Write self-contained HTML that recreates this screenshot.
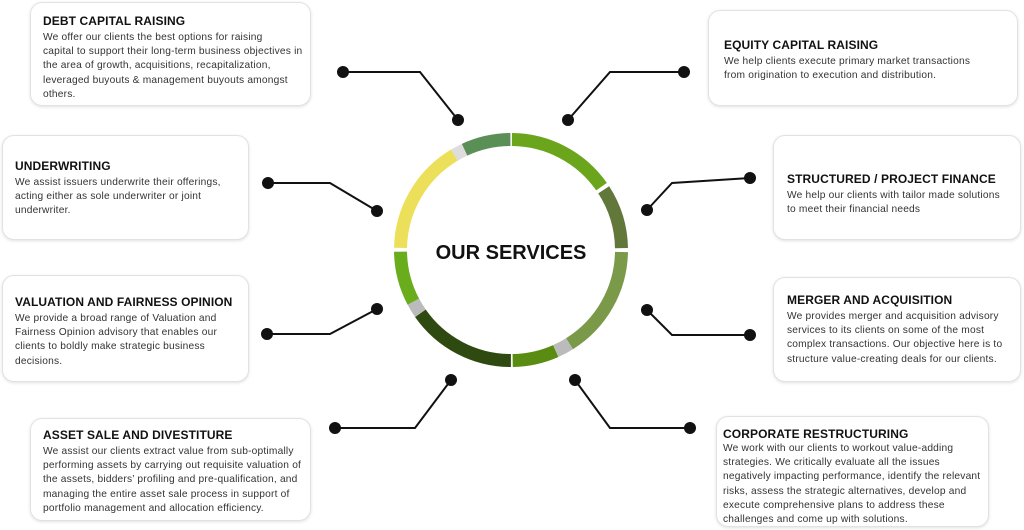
<!DOCTYPE html>
<html><head><meta charset="utf-8"><style>
body{margin:0;width:1024px;height:530px;background:#fff;position:relative;overflow:hidden;font-family:"Liberation Sans",sans-serif;color:#222}
.b{position:absolute;box-sizing:border-box;border:1px solid #e2e2e2;border-radius:12px;background:#fff;box-shadow:0 1px 3px rgba(0,0,0,.12);padding:0 10px}
.b h3{margin:0;font-size:12px;font-weight:bold;color:#111;letter-spacing:.1px;white-space:nowrap}
.b p{margin:3px 0 0;font-size:10.2px;line-height:14.2px;color:#333;letter-spacing:.2px;white-space:nowrap}
svg{position:absolute;left:0;top:0}
</style></head><body>
<svg width="1024" height="530">
<g fill="none" stroke="#111" stroke-width="2">
<polyline points="343,72 420,72 458,120"/>
<polyline points="684,72 610,72 568,120"/>
<polyline points="268,183 330,183 377,211"/>
<polyline points="750,178 672,183 647,210"/>
<polyline points="267,334 330,334 377,309"/>
<polyline points="647,310 672,335 750,335"/>
<polyline points="335,428 415,428 451,380"/>
<polyline points="575,380 610,428 690,428"/>
</g>
<g fill="#111">
<circle cx="343" cy="72" r="6"/><circle cx="458" cy="120" r="6"/>
<circle cx="684" cy="72" r="6"/><circle cx="568" cy="120" r="6"/>
<circle cx="268" cy="183" r="6"/><circle cx="377" cy="211" r="6"/>
<circle cx="750" cy="178" r="6"/><circle cx="647" cy="210" r="6"/>
<circle cx="267" cy="334" r="6"/><circle cx="377" cy="309" r="6"/>
<circle cx="647" cy="310" r="6"/><circle cx="750" cy="335" r="6"/>
<circle cx="335" cy="428" r="6"/><circle cx="451" cy="380" r="6"/>
<circle cx="575" cy="380" r="6"/><circle cx="690" cy="428" r="6"/>
</g>
<g fill="none" stroke-width="13" transform="rotate(-90 511 250)">
<circle cx="511" cy="250" r="110.5" stroke="#6aa51b" stroke-dasharray="105.1 700" stroke-dashoffset="-0.96"/>
<circle cx="511" cy="250" r="110.5" stroke="#62773a" stroke-dasharray="61.7 700" stroke-dashoffset="-109.9"/>
<circle cx="511" cy="250" r="110.5" stroke="#7a9a4a" stroke-dasharray="109.9 700" stroke-dashoffset="-175.5"/>
<circle cx="511" cy="250" r="110.5" stroke="#bbb" stroke-dasharray="15.4 700" stroke-dashoffset="-285.4"/>
<circle cx="511" cy="250" r="110.5" stroke="#5a8c12" stroke-dasharray="44.4 700" stroke-dashoffset="-300.9"/>
<circle cx="511" cy="250" r="110.5" stroke="#2f4a10" stroke-dasharray="106.1 700" stroke-dashoffset="-347.1"/>
<circle cx="511" cy="250" r="110.5" stroke="#bbb" stroke-dasharray="13.5 700" stroke-dashoffset="-453.2"/>
<circle cx="511" cy="250" r="110.5" stroke="#6aad1c" stroke-dasharray="52.1 700" stroke-dashoffset="-466.7"/>
<circle cx="511" cy="250" r="110.5" stroke="#ece05a" stroke-dasharray="111.9 700" stroke-dashoffset="-522.7"/>
<circle cx="511" cy="250" r="110.5" stroke="#ddd" stroke-dasharray="11.6 700" stroke-dashoffset="-634.5"/>
<circle cx="511" cy="250" r="110.5" stroke="#5a9055" stroke-dasharray="47.3 700" stroke-dashoffset="-646.1"/>
</g>
<text x="511" y="259" text-anchor="middle" font-family="Liberation Sans" font-weight="bold" font-size="20" fill="#111">OUR SERVICES</text>
</svg>

<div class="b" style="left:30px;top:2px;width:281px;height:104px;padding-top:11px;padding-left:12px"><h3>DEBT CAPITAL RAISING</h3><p>We offer our clients the best options for raising<br>capital to support their long-term business objectives in<br>the area of growth, acquisitions, recapitalization,<br>leveraged buyouts &amp; management buyouts amongst<br>others.</p></div>

<div class="b" style="left:708px;top:10px;width:310px;height:96px;padding-top:27px;padding-left:15px"><h3>EQUITY CAPITAL RAISING</h3><p>We help clients execute primary market transactions<br>from origination to execution and distribution.</p></div>

<div class="b" style="left:2px;top:135px;width:247px;height:105px;padding-top:23px;padding-left:12px"><h3>UNDERWRITING</h3><p>We assist issuers underwrite their offerings,<br>acting either as sole underwriter or joint<br>underwriter.</p></div>

<div class="b" style="left:773px;top:135px;width:248px;height:105px;padding-top:36px;padding-left:13px"><h3>STRUCTURED / PROJECT FINANCE</h3><p>We help our clients with tailor made solutions<br>to meet their financial needs</p></div>

<div class="b" style="left:2px;top:275px;width:247px;height:107px;padding-top:19px;padding-left:12px"><h3>VALUATION AND FAIRNESS OPINION</h3><p>We provide a broad range of Valuation and<br>Fairness Opinion advisory that enables our<br>clients to boldly make strategic business<br>decisions.</p></div>

<div class="b" style="left:773px;top:277px;width:248px;height:105px;padding-top:15px;padding-left:13px"><h3>MERGER AND ACQUISITION</h3><p>We provides merger and acquisition advisory<br>services to its clients on some of the most<br>complex transactions. Our objective here is to<br>structure value-creating deals for our clients.</p></div>

<div class="b" style="left:30px;top:418px;width:281px;height:103px;padding-top:9px;padding-left:12px"><h3>ASSET SALE AND DIVESTITURE</h3><p>We assist our clients extract value from sub-optimally<br>performing assets by carrying out requisite valuation of<br>the assets, bidders’ profiling and pre-qualification, and<br>managing the entire asset sale process in support of<br>portfolio management and allocation efficiency.</p></div>

<div class="b" style="left:716px;top:416px;width:273px;height:111px;padding-top:10px;padding-left:6px"><h3>CORPORATE RESTRUCTURING</h3><p style="margin-top:1px">We work with our clients to workout value-adding<br>strategies. We critically evaluate all the issues<br>negatively impacting performance, identify the relevant<br>risks, assess the strategic alternatives, develop and<br>execute comprehensive plans to address these<br>challenges and come up with solutions.</p></div>
</body></html>
